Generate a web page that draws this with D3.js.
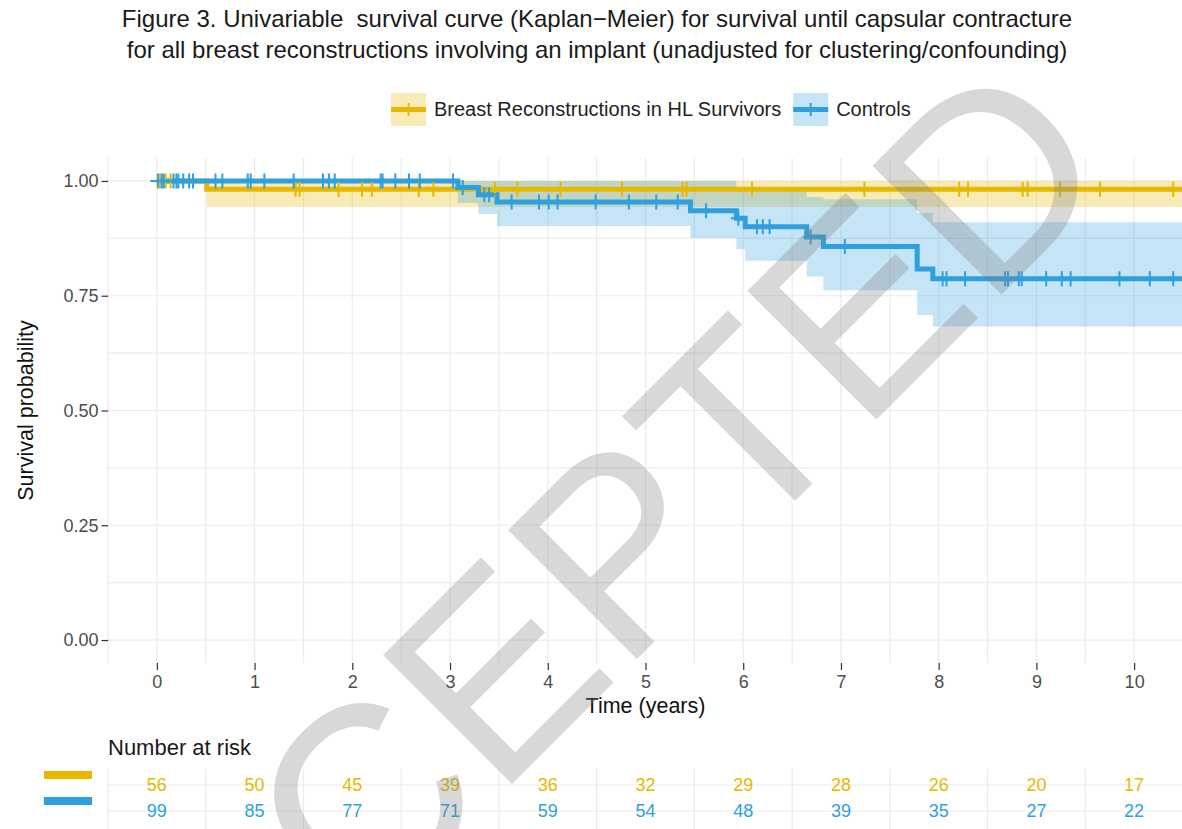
<!DOCTYPE html>
<html>
<head>
<meta charset="utf-8">
<script src="https://cdn.jsdelivr.net/npm/d3@7"></script>
<style>
  html, body { margin: 0; padding: 0; background: #fff; }
  svg { display: block; font-family: "Liberation Sans", Arial, Helvetica, sans-serif; }
  .title { white-space: pre; }
</style>
</head>
<body>
<svg id="chart" width="1182" height="829"></svg>
<script>
// ---- Series: Kaplan–Meier estimates (step starts, survival, 95% CI) ----
const groupNames = ["Breast Reconstructions in HL Survivors", "Controls"];
const groupColors = ["#E7B800", "#2E9FDF"];

const hlTime  = [0, 0.51];
const hlSurv  = [1, 0.982];
const hlLower = [1, 0.943];
const hlUpper = [1, 1];
const hlCensor = [0.03, 0.09, 0.14, 1.42, 1.46, 1.86, 2.10, 2.20, 2.68, 2.83, 3.46, 3.69,
                  4.13, 4.76, 5.38, 5.42, 6.09, 7.24, 8.21, 8.30, 8.86, 8.91, 9.24, 9.65, 10.40];

const ctrlTime  = [0, 3.08, 3.29, 3.48, 5.46, 5.93, 6.02, 6.65, 6.82, 7.78, 7.94];
const ctrlSurv  = [1, 0.986, 0.970, 0.954, 0.935, 0.919, 0.900, 0.878, 0.857, 0.808, 0.787];
const ctrlLower = [1, 0.952, 0.928, 0.902, 0.876, 0.851, 0.826, 0.792, 0.762, 0.708, 0.683];
const ctrlUpper = [1, 1, 1, 1, 1, 0.985, 0.978, 0.965, 0.960, 0.930, 0.910];
const ctrlCensor = [0.01, 0.05, 0.07, 0.17, 0.20, 0.22, 0.27, 0.33, 0.37, 0.60, 0.67, 0.93, 0.96,
                    1.10, 1.40, 1.70, 1.76, 1.82, 2.29, 2.31, 2.44, 2.58, 2.69, 3.03, 3.13, 3.35,
                    3.40, 3.63, 3.91, 4.01, 4.10, 4.49, 4.83, 5.11, 5.33, 5.62, 5.95, 6.14, 6.20,
                    6.27, 6.69, 7.04, 8.04, 8.08, 8.27, 8.68, 8.71, 8.82, 8.85, 9.10, 9.26, 9.35,
                    9.85, 10.16, 10.40];

// ---- Axis ticks and number-at-risk table ----
const xTicks = [0, 1, 2, 3, 4, 5, 6, 7, 8, 9, 10];
const yTicks = [0, 0.25, 0.5, 0.75, 1];
const riskTimes = [0, 1, 2, 3, 4, 5, 6, 7, 8, 9, 10];
const riskHL   = [56, 50, 45, 39, 36, 32, 29, 28, 26, 20, 17];
const riskCtrl = [99, 85, 77, 71, 59, 54, 48, 39, 35, 27, 22];

const titleLines = [
  "Figure 3. Univariable  survival curve (Kaplan\u2212Meier) for survival until capsular contracture",
  "for all breast reconstructions involving an implant (unadjusted for clustering/confounding)"
];

// ---- Layout ----
const svg = d3.select("#chart");
const P = { left: 108, right: 1183, top: 158, bottom: 663 };
const tEnd = 10.6;

const x = d3.scaleLinear().domain([-0.5, 10.5]).range([P.left, P.right]);
const y = d3.scaleLinear().domain([-0.05, 1.05]).range([P.bottom, P.top]);

const gridColor = "#ebebeb";
const tickText = "#4d4d4d";

svg.append("rect").attr("width", 1182).attr("height", 829).attr("fill", "#fff");

// clip for the plotting panel
svg.append("defs").append("clipPath").attr("id", "panelClip")
  .append("rect").attr("x", P.left).attr("y", P.top - 10)
  .attr("width", P.right - P.left).attr("height", P.bottom - P.top + 10);

// ---- Grid ----
const grid = svg.append("g");
const minorX = d3.range(-0.5, 10.6, 1);
const minorY = [0.125, 0.375, 0.625, 0.875];
grid.selectAll(".vx").data(xTicks.concat(minorX)).join("line")
  .attr("x1", d => x(d)).attr("x2", d => x(d))
  .attr("y1", P.top).attr("y2", P.bottom)
  .attr("stroke", gridColor).attr("stroke-width", 1.2);
grid.selectAll(".hy").data(yTicks.concat(minorY)).join("line")
  .attr("x1", P.left).attr("x2", P.right)
  .attr("y1", d => y(d)).attr("y2", d => y(d))
  .attr("stroke", gridColor).attr("stroke-width", 1.2);

// ---- Curves ----
function steps(times, surv, lo, hi) {
  const pts = times.map((t, i) => ({ t, s: surv[i], lo: lo[i], hi: hi[i] }));
  const last = pts[pts.length - 1];
  pts.push({ t: tEnd, s: last.s, lo: last.lo, hi: last.hi });
  return pts;
}
function levelAt(times, surv, t) {
  return surv[Math.max(0, d3.bisectRight(times, t) - 1)];
}

const groups = [
  { pts: steps(hlTime, hlSurv, hlLower, hlUpper), censor: hlCensor.map(t => ({ t, s: levelAt(hlTime, hlSurv, t) })), color: groupColors[0] },
  { pts: steps(ctrlTime, ctrlSurv, ctrlLower, ctrlUpper), censor: ctrlCensor.map(t => ({ t, s: levelAt(ctrlTime, ctrlSurv, t) })), color: groupColors[1] }
];

const plot = svg.append("g").attr("clip-path", "url(#panelClip)");
const area = d3.area().curve(d3.curveStepAfter)
  .x(d => x(d.t)).y0(d => y(d.lo)).y1(d => y(d.hi));
const line = d3.line().curve(d3.curveStepAfter)
  .x(d => x(d.t)).y(d => y(d.s));

groups.forEach(g => {
  plot.append("path").datum(g.pts).attr("d", area)
    .attr("fill", g.color).attr("fill-opacity", 0.28);
});
groups.forEach(g => {
  plot.append("path").datum(g.pts).attr("d", line)
    .attr("fill", "none").attr("stroke", g.color).attr("stroke-width", 5)
    .attr("stroke-linejoin", "miter").attr("stroke-linecap", "butt");
});
const half = 7.5;
groups.forEach(g => {
  plot.append("g").selectAll("path").data(g.censor).join("path")
    .attr("d", d => `M${x(d.t)},${y(d.s) - half}V${y(d.s) + half}M${x(d.t) - half},${y(d.s)}H${x(d.t) + half}`)
    .attr("stroke", g.color).attr("stroke-width", 2).attr("fill", "none");
});

// ---- Axes ----
const yAxis = svg.append("g").attr("transform", `translate(${P.left},0)`)
  .call(d3.axisLeft(y).tickValues(yTicks).tickFormat(d3.format(".2f")).tickSize(6.5).tickPadding(3));
const xAxis = svg.append("g").attr("transform", `translate(0,${P.bottom})`)
  .call(d3.axisBottom(x).tickValues(xTicks).tickFormat(d3.format("d")).tickSize(7).tickPadding(5));
[yAxis, xAxis].forEach(a => {
  a.select(".domain").remove();
  a.selectAll(".tick line").attr("stroke", "#333").attr("stroke-width", 1.2);
  a.selectAll(".tick text").attr("fill", tickText)
    .style("font-family", '"Liberation Sans", Arial, sans-serif').style("font-size", "18px");
});

svg.append("text").attr("x", (P.left + P.right) / 2).attr("y", 712.5)
  .attr("text-anchor", "middle").attr("font-size", 21.5).attr("fill", "#111")
  .text("Time (years)");
svg.append("text").attr("transform", `translate(25,${(P.top + P.bottom) / 2}) rotate(-90)`)
  .attr("dy", "0.35em").attr("text-anchor", "middle").attr("font-size", 21.5).attr("fill", "#111")
  .text("Survival probability");

// ---- Title ----
svg.append("g").selectAll("text").data(titleLines).join("text")
  .attr("class", "title")
  .attr("x", 597).attr("y", (d, i) => 27 + i * 31)
  .attr("text-anchor", "middle").attr("font-size", 24).attr("fill", "#1a1a1a")
  .text(d => d);

// ---- Legend ----
const legend = svg.append("g");
let lx = 391;
groupNames.forEach((name, i) => {
  const k = legend.append("g").attr("transform", `translate(${lx},93)`);
  k.append("rect").attr("width", 35).attr("height", 33)
    .attr("fill", groupColors[i]).attr("fill-opacity", 0.28);
  k.append("line").attr("x1", 0).attr("x2", 35).attr("y1", 16.5).attr("y2", 16.5)
    .attr("stroke", groupColors[i]).attr("stroke-width", 5);
  k.append("line").attr("x1", 17.5).attr("x2", 17.5).attr("y1", 10).attr("y2", 23)
    .attr("stroke", groupColors[i]).attr("stroke-width", 2);
  const t = legend.append("text").attr("x", lx + 43).attr("y", 116)
    .attr("font-size", 20).attr("fill", "#222").text(name);
  lx += 43 + t.node().getComputedTextLength() + 12;
});

// ---- Number at risk table ----
const table = svg.append("g");
const rowY = d3.scalePoint().domain([0, 1]).range([785, 811]);
table.append("text").attr("x", P.left).attr("y", 755)
  .attr("font-size", 22).attr("fill", "#1a1a1a").text("Number at risk");
table.selectAll(".tv").data(minorX).join("line")
  .attr("x1", d => x(d)).attr("x2", d => x(d)).attr("y1", 769).attr("y2", 829)
  .attr("stroke", gridColor).attr("stroke-width", 1.2);
table.selectAll(".th").data([0, 1]).join("line")
  .attr("x1", P.left).attr("x2", P.right).attr("y1", d => rowY(d)).attr("y2", d => rowY(d))
  .attr("stroke", gridColor).attr("stroke-width", 1.2);
table.selectAll(".key").data([0, 1]).join("rect")
  .attr("x", 44).attr("y", d => rowY(d) - 14).attr("width", 48).attr("height", 8)
  .attr("fill", d => groupColors[d]);
[riskHL, riskCtrl].forEach((vals, r) => {
  table.append("g").selectAll("text").data(vals).join("text")
    .attr("x", (d, i) => x(riskTimes[i])).attr("y", rowY(r)).attr("dy", "0.35em")
    .attr("text-anchor", "middle").attr("font-size", 18).attr("fill", groupColors[r])
    .text(d => d);
});

// ---- Watermark ----
svg.append("text").attr("transform", "translate(101,1195) rotate(-45)")
  .attr("font-size", 265).attr("fill", "#808080").attr("fill-opacity", 0.31)
  .text("ACCEPTED");
</script>
</body>
</html>
